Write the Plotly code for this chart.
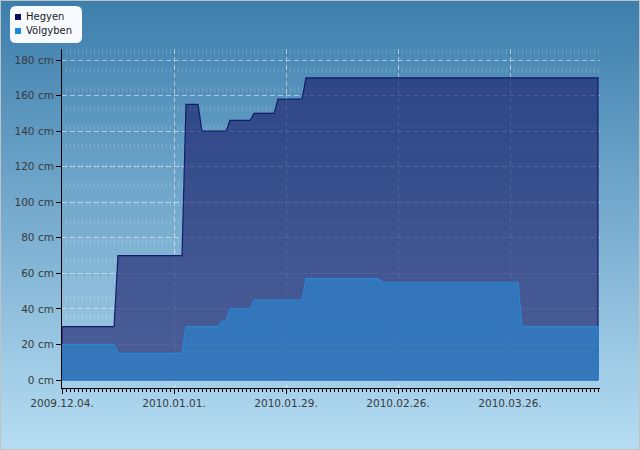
import base64
import plotly.graph_objects as go

# ---- data ----
hegyen_dates = ["2009-12-04", "2009-12-17", "2009-12-18", "2010-01-03", "2010-01-04",
                "2010-01-07", "2010-01-08", "2010-01-14", "2010-01-15", "2010-01-20",
                "2010-01-21", "2010-01-26", "2010-01-27", "2010-02-02", "2010-02-03",
                "2010-04-17"]
hegyen_cm = [30, 30, 70, 70, 155, 155, 140, 140, 146, 146, 150, 150, 158, 158, 170, 170]

volgyben_dates = ["2009-12-04", "2009-12-17", "2009-12-18", "2010-01-03", "2010-01-04",
                  "2010-01-12", "2010-01-13", "2010-01-14", "2010-01-15", "2010-01-20",
                  "2010-01-21", "2010-02-02", "2010-02-03", "2010-02-21", "2010-02-22",
                  "2010-03-28", "2010-03-29", "2010-04-17"]
volgyben_cm = [20, 20, 15, 15, 30, 30, 33, 33, 40, 40, 45, 45, 57, 57, 55, 55, 30, 30]

series_names = ["Hegyen", "Völgyben"]
x_range = ["2009-12-04", "2010-04-17 12:00"]
y_range = [-4.5, 186.2]

# ---- layout geometry ----
W, H = 640, 450
ML, MR, MT, MB = 62, 40, 49, 62
PW, PH = W - ML - MR, H - MT - MB
FONT = "DejaVu Sans"


def px(x):
    return (x - ML) / PW


def py(y):
    return (H - MB - y) / PH


def closed(xs, ys):
    return [xs[0]] + xs + [xs[-1], xs[0]], [0] + ys + [0, 0]


fig = go.Figure()
hx, hy = closed(hegyen_dates, hegyen_cm)
fig.add_trace(go.Scatter(x=hx, y=hy, name=series_names[0], mode="lines", fill="toself",
                         fillcolor="rgba(22,26,103,0.62)",
                         line=dict(color="#141c6a", width=1.2), showlegend=False,
                         hoverinfo="skip"))
vx, vy = closed(volgyben_dates, volgyben_cm)
fig.add_trace(go.Scatter(x=vx, y=vy, name=series_names[1], mode="lines", fill="toself",
                         fillcolor="rgba(40,137,212,0.6)",
                         line=dict(color="#2a86d0", width=1.2), showlegend=False,
                         hoverinfo="skip"))

svg = (f'<svg xmlns="http://www.w3.org/2000/svg" width="{W}" height="{H}">'
       '<defs><linearGradient id="g" x1="0" y1="0" x2="0" y2="1">'
       '<stop offset="0" stop-color="#3c7eac"/><stop offset="1" stop-color="#b6ddf3"/>'
       '</linearGradient></defs>'
       f'<rect width="{W}" height="{H}" fill="url(#g)"/>'
       f'<rect x="0.5" y="0.5" width="{W-1}" height="{H-1}" fill="none" stroke="#c2c2c2"/>'
       '</svg>')
src = "data:image/svg+xml;base64," + base64.b64encode(svg.encode()).decode()

# rounded legend box
x0, x1, y0, y1, r = 10, 82, 6, 43, 6
path = (f"M{px(x0 + r)},{py(y0)} L{px(x1 - r)},{py(y0)} Q{px(x1)},{py(y0)} {px(x1)},{py(y0 + r)} "
        f"L{px(x1)},{py(y1 - r)} Q{px(x1)},{py(y1)} {px(x1 - r)},{py(y1)} "
        f"L{px(x0 + r)},{py(y1)} Q{px(x0)},{py(y1)} {px(x0)},{py(y1 - r)} "
        f"L{px(x0)},{py(y0 + r)} Q{px(x0)},{py(y0)} {px(x0 + r)},{py(y0)} Z")
shapes = [dict(type="path", path=path, xref="paper", yref="paper",
               fillcolor="#f7fbff", line=dict(width=0), layer="above")]
legend_colors = ["#0e0e5e", "#1a8cd8"]
legend_y = [17, 31]
annotations = []
for name, col, ly in zip(series_names, legend_colors, legend_y):
    shapes.append(dict(type="rect", xref="paper", yref="paper",
                       x0=px(15), x1=px(21), y0=py(ly - 3), y1=py(ly + 3),
                       fillcolor=col, line=dict(width=0), layer="above"))
    annotations.append(dict(text=name, x=px(24), y=py(ly - 0.5), xref="paper", yref="paper",
                            xanchor="left", yanchor="middle", showarrow=False,
                            font=dict(family=FONT, size=10, color="#1a1a1a")))

fig.update_layout(
    width=W, height=H,
    margin=dict(l=ML, r=MR, t=MT, b=MB),
    paper_bgcolor="white",
    plot_bgcolor="rgba(0,0,0,0)",
    images=[dict(source=src, xref="paper", yref="paper", x=-ML / PW, y=1 + MT / PH,
                 sizex=W / PW, sizey=H / PH, xanchor="left", yanchor="top",
                 sizing="stretch", layer="below")],
    shapes=shapes,
    annotations=annotations,
    showlegend=False,
    font=dict(family=FONT, size=10.5, color="#3a3a3a"),
    xaxis=dict(
        type="date", range=x_range, tick0="2009-12-04", dtick=28 * 86400000,
        tickformat="%Y.%m.%d.", ticks="outside", ticklen=5, tickcolor="black",
        showline=True, linecolor="black", linewidth=1, zeroline=False,
        showgrid=True, gridcolor="rgba(255,255,255,0.5)", griddash="5px,3px", gridwidth=1,
        minor=dict(dtick=86400000, ticks="outside", ticklen=3, tickcolor="black",
                   showgrid=True, gridcolor="rgba(255,255,255,0.18)", griddash="5px,14px"),
        tickfont=dict(family=FONT, size=10.5, color="#3a3a3a"),
    ),
    yaxis=dict(
        range=y_range, tick0=0, dtick=20, ticksuffix=" cm", ticks="outside", ticklen=5,
        tickcolor="black", showline=True, linecolor="black", linewidth=1, zeroline=False,
        showgrid=True, gridcolor="rgba(255,255,255,0.5)", griddash="5px,3px", gridwidth=1,
        tickfont=dict(family=FONT, size=10.5, color="#3a3a3a"),
    ),
)

fig.write_html("out.html")
